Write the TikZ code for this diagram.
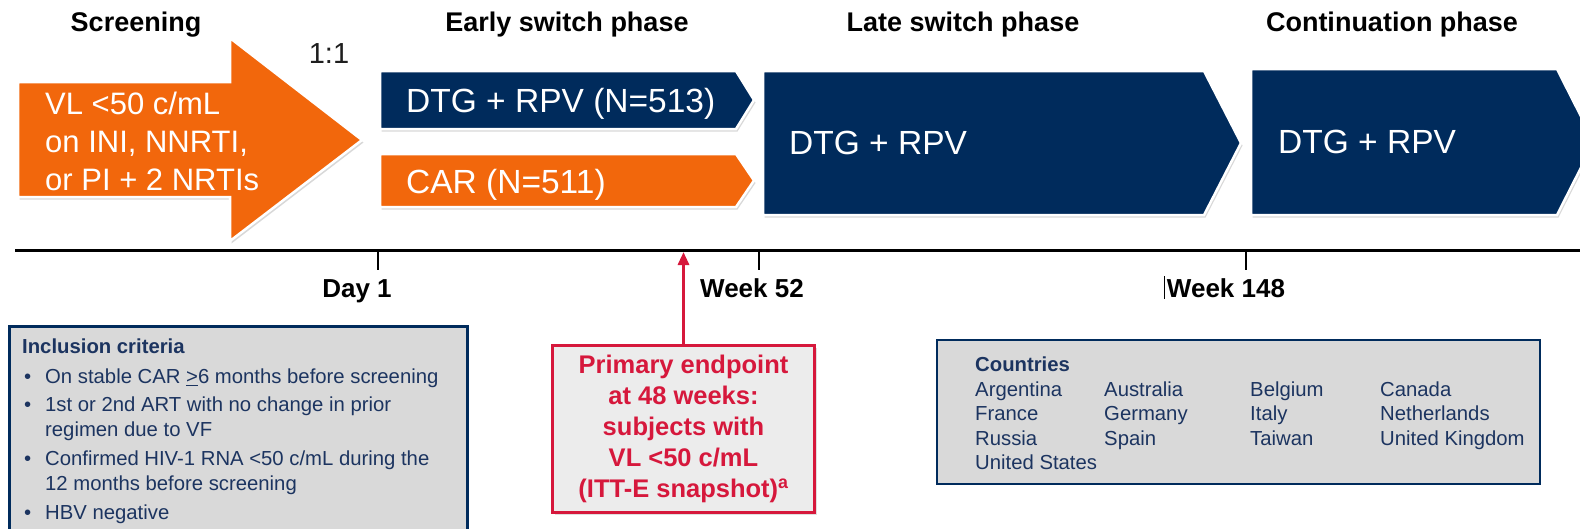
\documentclass[tikz,border=0pt]{standalone}
\usepackage{fontspec}
\setmainfont{Liberation Sans}
\usetikzlibrary{shadows,arrows.meta}
\definecolor{navy}{RGB}{0,43,92}
\definecolor{orng}{RGB}{242,103,12}
\definecolor{redc}{RGB}{214,24,60}
\definecolor{boxgray}{RGB}{217,217,217}
\definecolor{boxtext}{RGB}{28,52,96}
\definecolor{epgray}{RGB}{236,236,236}
\definecolor{darkgr}{RGB}{30,30,30}
\newcommand\myfs[2]{\fontsize{#1}{#2}\selectfont}
\begin{document}
\begin{tikzpicture}[x=1pt,y=-1pt,
  chev/.style={draw=white, line width=2.5pt, line join=miter,
    drop shadow={opacity=0.3, shadow xshift=1.5pt, shadow yshift=-2.5pt}},
  hdr/.style={font=\myfs{27}{32}\bfseries, text=black, inner sep=0, text height=19.4pt, text depth=0pt},
  lbl/.style={font=\myfs{26}{30}\bfseries, text=black, inner sep=0, text height=18.7pt, text depth=0pt},
  chevtext/.style={text=white, font=\myfs{33.5}{38}, anchor=west, inner sep=0, text height=24pt, text depth=0pt},
  infobox/.style={draw=navy, line width=2.5pt, fill=boxgray, inner sep=0},
  inctext/.style={text=boxtext, font=\myfs{20.3}{24}, anchor=west, inner sep=0, text height=14.6pt, text depth=0pt},
  inctitle/.style={text=boxtext, font=\myfs{20.3}{24}\bfseries, anchor=west, inner sep=0, text height=14.6pt, text depth=0pt},
  tick/.style={line width=2.5pt}]
\clip (0,0) rectangle (1580,528);
\fill[white] (0,0) rectangle (1580,528);

% headers
\node[hdr] (hscr) at (136,22) {Screening};
\node[hdr] (hearly) at (567,22) {Early switch phase};
\node[hdr] (hlate) at (963,22) {Late switch phase};
\node[hdr] (hcont) at (1392,22) {Continuation phase};
\node[font=\myfs{29}{32}, text=darkgr, inner sep=0, text height=20.9pt, text depth=0pt] (ratio) at (329,53) {1:1};

% screening arrow
\path[chev, fill=orng] (18,82) -- (230,82) -- (230,38) -- (362,140) -- (230,241) -- (230,197) -- (18,197) -- cycle;
\node[text=white, font=\myfs{31}{38}, anchor=west, inner sep=0, align=left] (scr) at (45,141) {VL <50 c/mL\\on INI, NNRTI,\\or PI + 2 NRTIs};

% early switch
\path[chev, fill=navy] (380,71) -- (736,71) -- (754,100) -- (736,129) -- (380,129) -- cycle;
\node[chevtext] (dtg1) at (406,100) {DTG + RPV (N=513)};
\path[chev, fill=orng] (380,154) -- (736,154) -- (754,180.5) -- (736,207) -- (380,207) -- cycle;
\node[chevtext] (car) at (406,181) {CAR (N=511)};

% late switch
\path[chev, fill=navy] (763,71) -- (1204,71) -- (1241,143) -- (1204,215) -- (763,215) -- cycle;
\node[chevtext] (dtg2) at (789,142) {DTG + RPV};

% continuation
\path[chev, fill=navy] (1251,69) -- (1557,69) -- (1594,142) -- (1557,215) -- (1251,215) -- cycle;
\node[chevtext] (dtg3) at (1278,141) {DTG + RPV};

% timeline
\coordinate (tlL) at (15,250);
\coordinate (tlR) at (1585,250);
\draw[line width=3pt] (tlL) -- (tlR);
\draw[tick] (378,250) -- (378,270);
\draw[tick] (759,250) -- (759,270);
\draw[tick] (1246,250) -- (1246,270);
\node[lbl] (day1) at (357,288) {Day 1};
\node[lbl] (w52) at (752,288) {Week 52};
\node[lbl] (w148) at (1226,288) {Week 148};
\draw[line width=1pt] (1164,276) -- (1164,299);

% primary endpoint
\node[draw=redc, line width=3pt, fill=epgray, text=redc, font=\myfs{25.5}{31}\bfseries,
  align=center, minimum width=262pt, minimum height=167pt, inner sep=0,
  drop shadow={opacity=0.25, shadow xshift=2pt, shadow yshift=-2.5pt}] (ep) at (683.5,428.5)
  {Primary endpoint\\at 48 weeks:\\subjects with\\VL <50 c/mL\\(ITT-E snapshot)\textsuperscript{a}};
\coordinate (eptl) at (683.5,252);
\draw[redc, line width=3pt, -{Triangle[length=13pt,width=11pt]}] (ep.north) -- (eptl);

% inclusion criteria
\node[infobox, minimum width=458pt, minimum height=215pt, anchor=north west] (inc) at (8,325) {};
\node[inctitle] (inct) at (22,346) {Inclusion criteria};
\node[inctext] (bu1) at (24,376) {•};
\node[inctext] (i1) at (45,376) {On stable CAR \underline{>}6 months before screening};
\node[inctext] (bu2) at (24,404) {•};
\node[inctext] (i2) at (45,404) {1st or 2nd ART with no change in prior};
\node[inctext] (i2b) at (45,429) {regimen due to VF};
\node[inctext] (bu3) at (24,458) {•};
\node[inctext] (i3) at (45,458) {Confirmed HIV-1 RNA <50 c/mL during the};
\node[inctext] (i3b) at (45,483) {12 months before screening};
\node[inctext] (bu4) at (24,512) {•};
\node[inctext] (i4) at (45,512) {HBV negative};

% countries
\node[infobox, minimum width=603pt, minimum height=144pt] (cty) at (1238.5,412) {};
\node[inctitle] (ctyt) at (975,364) {Countries};
\node[inctext] (c11) at (975,389) {Argentina};
\node[inctext] (c12) at (1104,389) {Australia};
\node[inctext] (c13) at (1250,389) {Belgium};
\node[inctext] (c14) at (1380,389) {Canada};
\node[inctext] (c21) at (975,413) {France};
\node[inctext] (c22) at (1104,413) {Germany};
\node[inctext] (c23) at (1250,413) {Italy};
\node[inctext] (c24) at (1380,413) {Netherlands};
\node[inctext] (c31) at (975,438) {Russia};
\node[inctext] (c32) at (1104,438) {Spain};
\node[inctext] (c33) at (1250,438) {Taiwan};
\node[inctext] (c34) at (1380,438) {United Kingdom};
\node[inctext] (c41) at (975,462) {United States};
\end{tikzpicture}
\end{document}
